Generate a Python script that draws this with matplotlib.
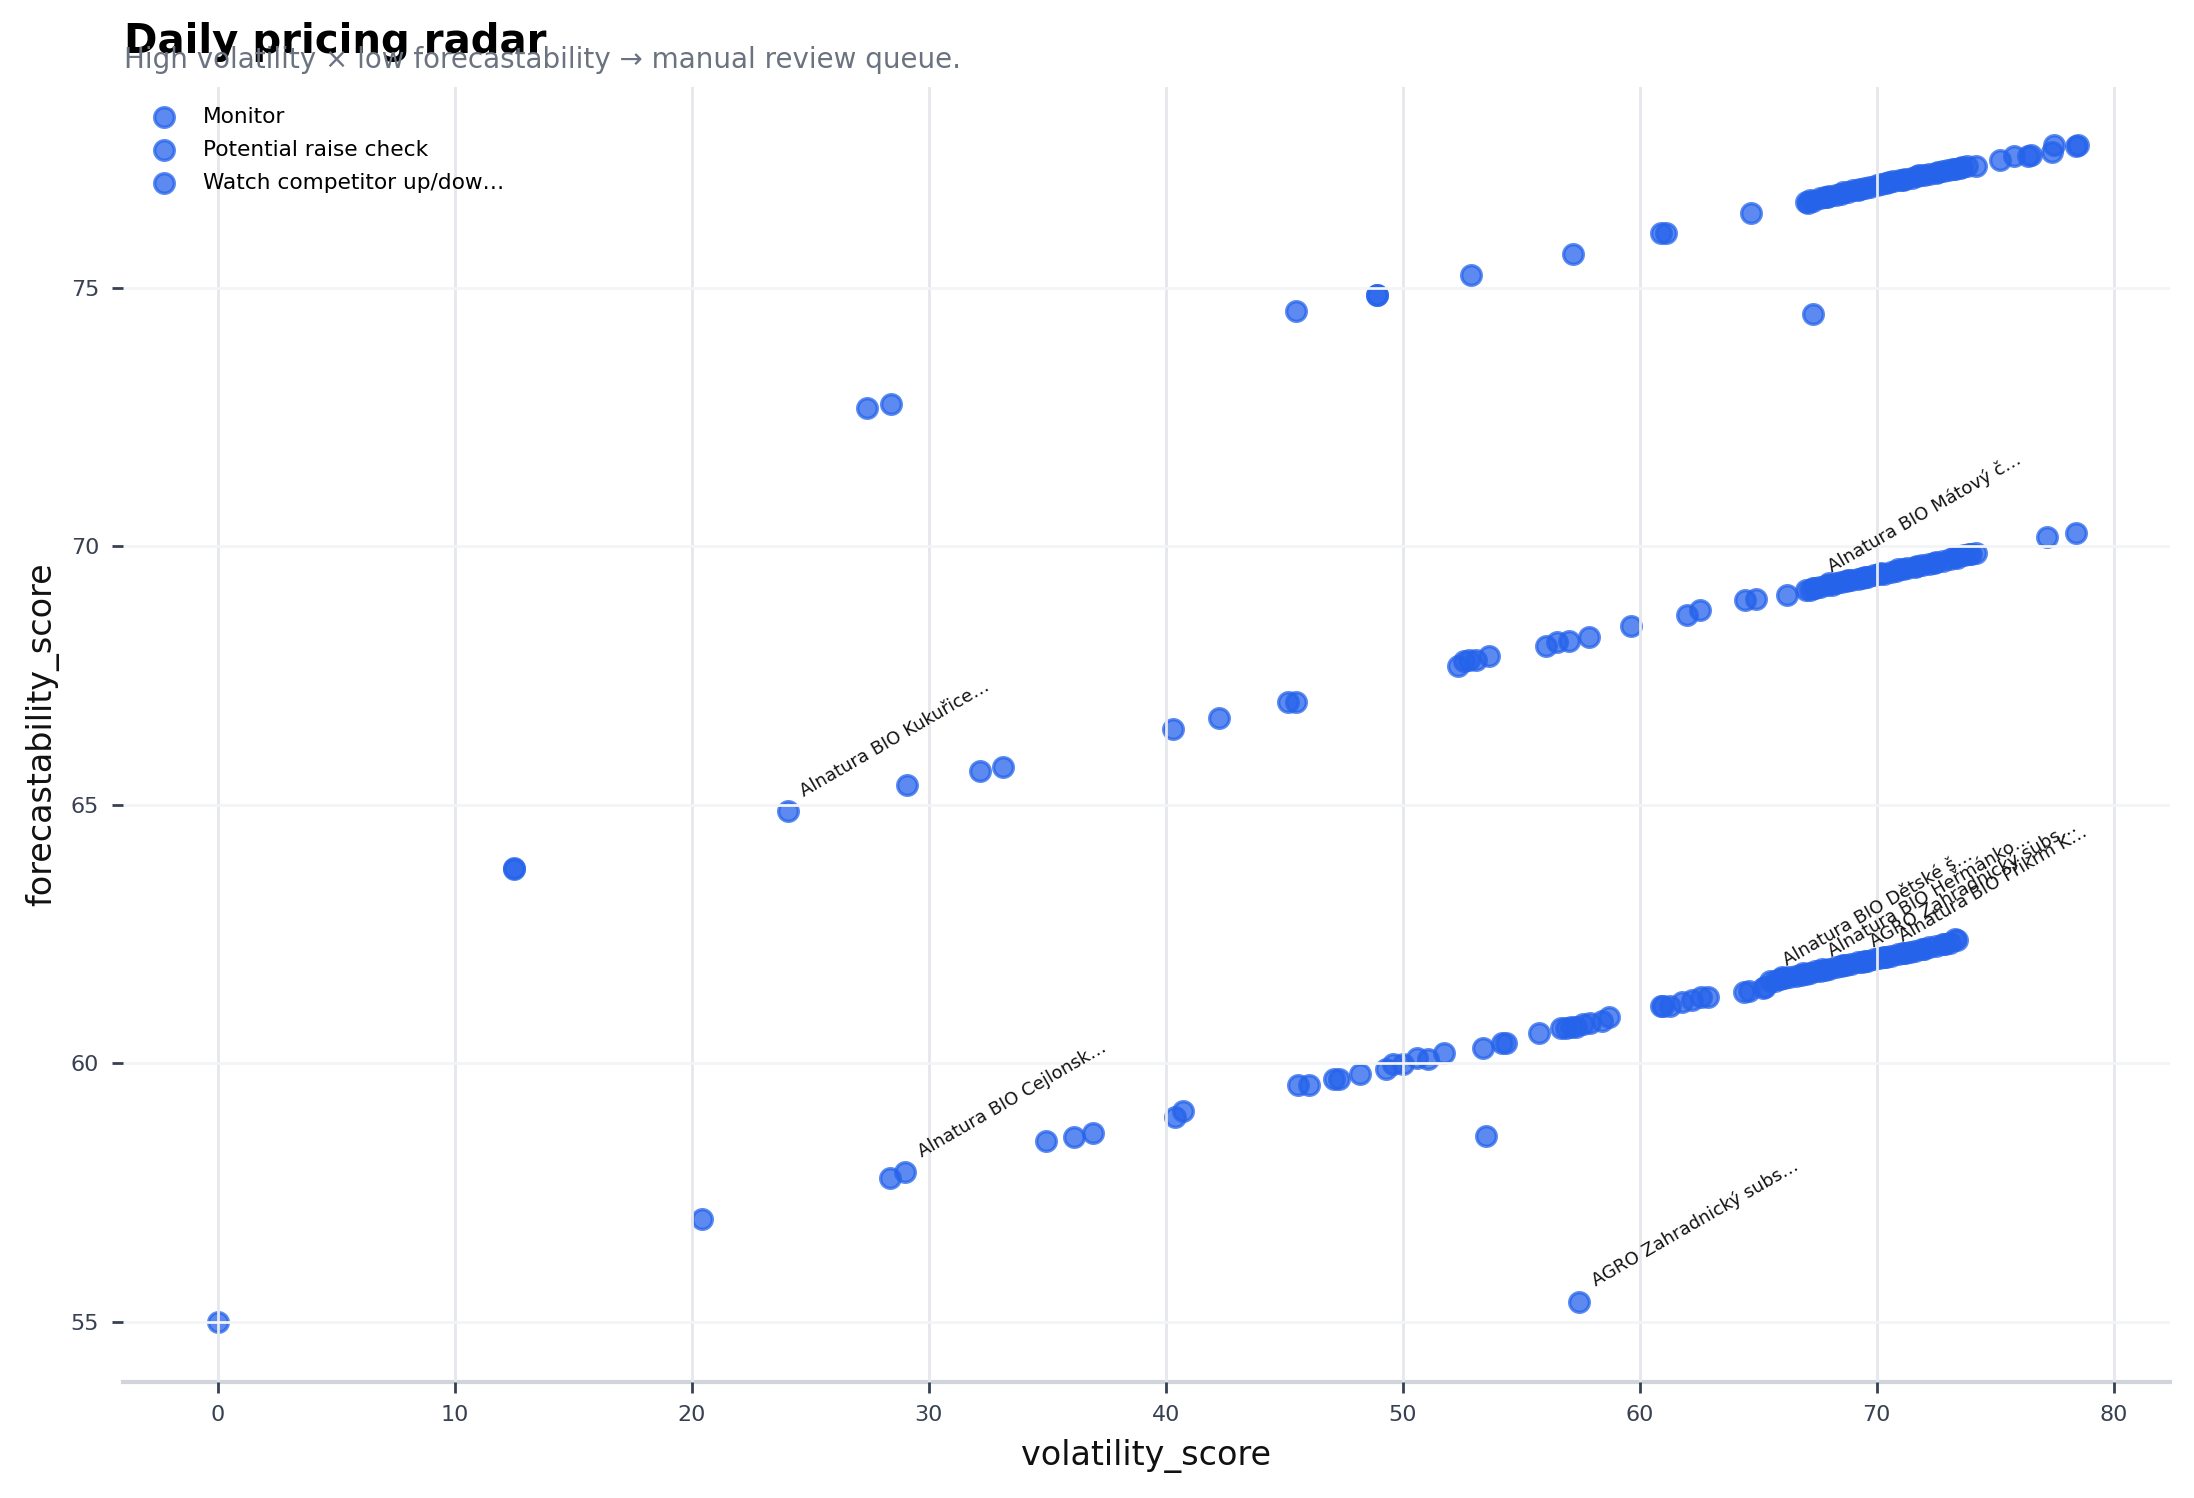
import matplotlib
matplotlib.use("Agg")
import matplotlib.pyplot as plt

# ---- data ----
series_names = ["Monitor", "Potential raise check", "Watch competitor up/dow…"]

monitor_x = [27.4, 28.4, 45.5, 48.9, 48.9, 52.9, 57.2, 60.9, 61.1, 64.7, 67.3,
             67.0, 67.1, 67.3, 67.6, 67.8, 68.0, 68.3, 68.5, 68.8, 69.0, 69.2,
             69.5, 69.7, 70.0, 70.2, 70.5, 70.7, 71.0, 71.2, 71.5, 71.7, 72.0,
             72.2, 72.5, 72.8, 73.0, 73.3, 73.5, 73.8, 74.2,
             67.2, 67.9, 68.6, 69.3, 70.4, 71.1, 71.8, 72.6, 73.2, 73.6,
             75.2, 75.8, 76.4, 76.5, 77.4, 77.5, 78.4, 78.5]
monitor_y = [72.68, 72.75, 74.55, 74.86, 74.86, 75.25, 75.65, 76.05, 76.05, 76.45, 74.5,
             76.65, 76.64, 76.68, 76.74, 76.76, 76.78, 76.80, 76.82, 76.85, 76.88, 76.89,
             76.92, 76.95, 76.98, 77.00, 77.04, 77.06, 77.08, 77.10, 77.13, 77.15, 77.18,
             77.19, 77.22, 77.25, 77.27, 77.30, 77.32, 77.36, 77.35,
             76.70, 76.76, 76.85, 76.90, 77.02, 77.09, 77.17, 77.24, 77.29, 77.33,
             77.46, 77.55, 77.55, 77.56, 77.63, 77.76, 77.74, 77.76]

raise_x = [12.5, 12.5, 24.05, 29.1, 32.15, 33.15, 40.3, 42.25, 45.15, 45.5,
           52.35, 52.6, 52.8, 53.1, 53.65, 56.05, 56.5, 57.0, 57.85, 59.65,
           62.0, 62.55, 64.45, 64.9, 66.2,
           67.0, 67.2, 67.4, 67.6, 67.9, 68.1, 68.3, 68.5, 68.7, 68.9, 69.2,
           69.4, 69.6, 69.9, 70.1, 70.3, 70.6, 70.8, 71.1, 71.3, 71.6, 71.9,
           72.2, 72.5, 72.8, 73.1, 73.4, 73.7, 74.0, 74.2,
           67.3, 68.0, 68.8, 69.5, 70.2, 70.9, 71.7, 72.4, 73.3, 73.9,
           77.2, 78.4]
raise_y = [63.76, 63.78, 64.87, 65.38, 65.65, 65.73, 66.47, 66.68, 66.98, 66.98,
           67.68, 67.78, 67.80, 67.79, 67.87, 68.06, 68.14, 68.17, 68.25, 68.45,
           68.66, 68.76, 68.96, 68.97, 69.06,
           69.15, 69.16, 69.20, 69.21, 69.24, 69.25, 69.28, 69.30, 69.32, 69.34, 69.37,
           69.39, 69.40, 69.44, 69.46, 69.47, 69.50, 69.52, 69.55, 69.57, 69.60, 69.63,
           69.66, 69.69, 69.72, 69.75, 69.78, 69.82, 69.84, 69.87,
           69.20, 69.28, 69.35, 69.40, 69.49, 69.55, 69.62, 69.68, 69.79, 69.85,
           70.18, 70.25]

watch_x = [0.0, 20.45, 28.35, 29.0, 34.95, 36.15, 36.95, 40.4, 40.75,
           45.6, 46.05, 47.1, 47.3, 48.2, 49.3, 49.6, 50.0, 50.6, 51.05, 51.75,
           53.4, 54.2, 54.35, 55.75, 56.7, 56.9, 57.1, 57.3, 57.6, 57.9, 58.4, 58.7,
           53.5, 57.45,
           60.9, 61.0, 61.3, 61.8, 62.2, 62.6, 62.9, 64.4, 64.6, 65.2, 65.3,
           65.5, 65.7, 65.9, 66.1, 66.3, 66.6, 66.8, 67.0, 67.2, 67.4, 67.6, 67.8,
           68.0, 68.3, 68.5, 68.7, 68.9, 69.2, 69.4, 69.6, 69.9, 70.1, 70.4, 70.6,
           70.9, 71.1, 71.4, 71.6, 71.9, 72.2, 72.5, 72.8, 73.1, 73.4,
           66.0, 66.9, 67.7, 68.6, 69.5, 70.3, 71.2, 72.0, 72.9, 73.3]
watch_y = [55.0, 56.99, 57.79, 57.9, 58.49, 58.58, 58.66, 58.97, 59.08,
           59.58, 59.58, 59.69, 59.69, 59.79, 59.88, 59.98, 59.98, 60.1, 60.08, 60.19,
           60.29, 60.39, 60.39, 60.59, 60.68, 60.69, 60.70, 60.70, 60.75, 60.78, 60.82, 60.9,
           58.59, 55.39,
           61.1, 61.11, 61.1, 61.19, 61.22, 61.29, 61.29, 61.38, 61.4, 61.45, 61.47,
           61.6, 61.6, 61.63, 61.64, 61.66, 61.69, 61.71, 61.73, 61.75, 61.78, 61.79, 61.81,
           61.83, 61.86, 61.88, 61.90, 61.92, 61.95, 61.96, 61.98, 62.01, 62.03, 62.06, 62.08,
           62.11, 62.13, 62.16, 62.18, 62.21, 62.24, 62.27, 62.30, 62.33, 62.38,
           61.66, 61.74, 61.82, 61.90, 61.98, 62.05, 62.14, 62.20, 62.30, 62.40]

label_text = ["Alnatura BIO Kukuřice…", "Alnatura BIO Cejlonsk…", "AGRO Zahradnický subs…",
              "Alnatura BIO Mátový č…", "Alnatura BIO Dětské š…", "Alnatura BIO Heřmánko…",
              "AGRO Zahradnický subs…", "Alnatura BIO Přikrm K…"]
label_x = [24.05, 29.0, 57.45, 67.4, 65.5, 67.4, 69.2, 70.4]
label_y = [64.87, 57.9, 55.39, 69.2, 61.6, 61.78, 61.95, 62.06]

BLUE = "#2563eb"

fig = plt.figure(figsize=(10.97, 7.49), dpi=200)
ax = fig.add_axes([0.056, 0.0776, 0.9331, 0.8643])

for name, xs, ys in zip(series_names, [monitor_x, raise_x, watch_x], [monitor_y, raise_y, watch_y]):
    ax.scatter(xs, ys, s=50, color=BLUE, edgecolor=BLUE, linewidth=1.2, alpha=0.75, label=name, zorder=2)

for t, x, y in zip(label_text, label_x, label_y):
    ax.annotate(t, (x, y), xytext=(3.5, 4), textcoords="offset points",
                fontsize=6.5, rotation=30, ha="left", va="bottom", color="#111111")

ax.set_xlim(-4.0, 82.38)
ax.set_ylim(53.84, 78.88)
ax.set_xticks([0, 10, 20, 30, 40, 50, 60, 70, 80])
ax.set_yticks([55, 60, 65, 70, 75])

ax.set_axisbelow(False)
ax.grid(axis="x", color="#e5e7eb", linewidth=1.0, zorder=3)
ax.grid(axis="y", color="#f3f4f6", linewidth=1.0, zorder=3)

for s in ["top", "right", "left"]:
    ax.spines[s].set_visible(False)
ax.spines["bottom"].set_color("#d1d5db")
ax.spines["bottom"].set_linewidth(1.5)

ax.tick_params(axis="both", labelsize=8, colors="#374151", length=4, width=1, pad=4.5)

ax.set_xlabel("volatility_score", fontsize=12, color="#111111", labelpad=5)
ax.set_ylabel("forecastability_score", fontsize=12, color="#111111", labelpad=4)

ax.legend(loc="upper left", frameon=False, fontsize=7.8, labelspacing=0.6)

fig.text(0.0566, 0.9646, "Daily pricing radar", fontsize=14.5, fontweight="bold",
         ha="left", va="baseline", color="#000000")
fig.text(0.0566, 0.9546, "High volatility × low forecastability → manual review queue.",
         fontsize=10, ha="left", va="baseline", color="#6b7280")

fig.savefig("out.png", dpi=200)
